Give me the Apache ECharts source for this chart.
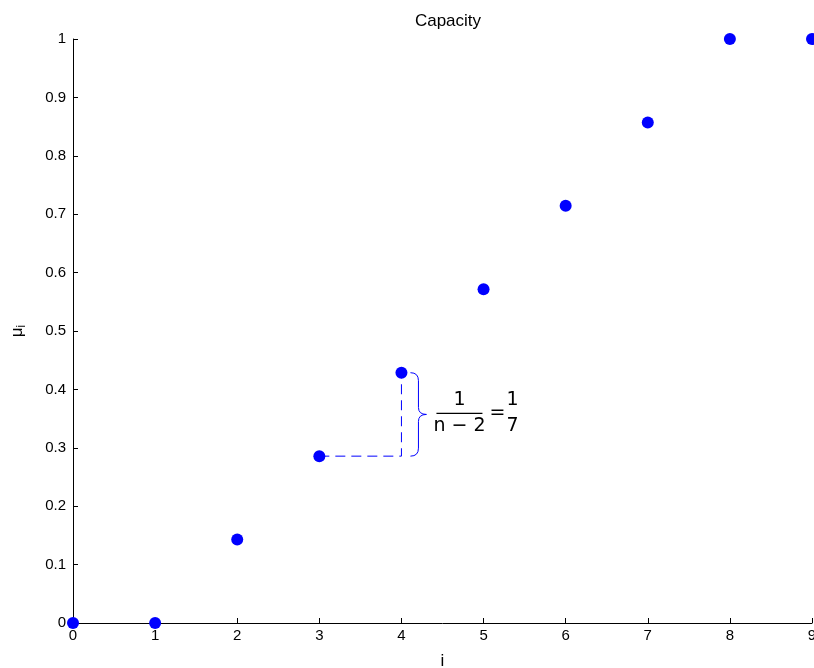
<!DOCTYPE html>
<html>
<head>
<meta charset="utf-8">
<script src="https://cdn.jsdelivr.net/npm/echarts@6/dist/echarts.min.js"></script>
<style>
  html, body { margin: 0; padding: 0; background: #fff; }
  #chart { width: 814px; height: 668px; }
</style>
</head>
<body>
<div id="chart"></div>
<script>
// capacity values mu_i for i = 0..9
const iValues = [0, 1, 2, 3, 4, 5, 6, 7, 8, 9];
const muValues = [0, 0, 0.1429, 0.2857, 0.4286, 0.5714, 0.7143, 0.8571, 1, 1];
const yTicks = [0, 0.1, 0.2, 0.3, 0.4, 0.5, 0.6, 0.7, 0.8, 0.9, 1];
// annotated step: from point 3 to point 4
const stepFrom = 3;
const stepTo = 4;

const points = iValues.map((x, k) => [x, muValues[k]]);
const stepPath = [
  [iValues[stepFrom], muValues[stepFrom]],
  [iValues[stepTo], muValues[stepFrom]],
  [iValues[stepTo], muValues[stepTo]]
];

const chart = echarts.init(document.getElementById('chart'));
const tickFont = 'Liberation Sans, Arial, sans-serif';

chart.setOption({
  animation: false,
  title: {
    text: 'Capacity',
    left: 443,
    top: 8,
    textAlign: 'center',
    textStyle: { fontFamily: tickFont, fontSize: 17, fontWeight: 'normal', color: '#000' }
  },
  grid: { left: 73, right: 2, top: 39, bottom: 45, outerBoundsMode: 'none', containLabel: false },
  xAxis: {
    type: 'value',
    min: 0, max: 9, interval: 1,
    name: 'i',
    nameLocation: 'middle',
    nameGap: 30,
    nameTextStyle: { fontFamily: tickFont, fontSize: 17, color: '#000' },
    axisLine: { onZero: false, lineStyle: { color: '#000', width: 1 } },
    axisTick: { inside: true, length: 5, lineStyle: { color: '#000' } },
    axisLabel: { fontFamily: tickFont, fontSize: 15, color: '#000', margin: 5 },
    splitLine: { show: false }
  },
  yAxis: {
    type: 'value',
    min: 0, max: 1, interval: 0.1,
    name: '{m|μ}{s|i}',
    nameLocation: 'middle',
    nameGap: 45,
    nameTextStyle: {
      rich: {
        m: { fontFamily: tickFont, fontSize: 17, color: '#000' },
        s: { fontFamily: tickFont, fontSize: 12, color: '#000', padding: [10, 0, 0, 0] }
      }
    },
    axisLine: { onZero: false, lineStyle: { color: '#000', width: 1 } },
    axisTick: { inside: true, length: 5, lineStyle: { color: '#000' } },
    axisLabel: {
      fontFamily: tickFont, fontSize: 15, color: '#000', margin: 7,
      formatter: v => String(Math.round(v * 10) / 10)
    },
    splitLine: { show: false }
  },
  series: [
    {
      type: 'line',
      data: stepPath,
      symbol: 'none',
      lineStyle: { color: '#0000ff', width: 1, type: [10, 6] },
      z: 2
    },
    {
      type: 'scatter',
      data: points,
      symbol: 'circle',
      symbolSize: 12,
      itemStyle: { color: '#0000ff', opacity: 1 },
      clip: false,
      z: 3
    },
    {
      type: 'custom',
      coordinateSystem: 'cartesian2d',
      clip: false,
      data: [[iValues[stepTo], muValues[stepTo], muValues[stepFrom]]],
      renderItem: function (params, api) {
        const top = api.coord([api.value(0), api.value(1)]);
        const bot = api.coord([api.value(0), api.value(2)]);
        const x0 = top[0] + 9;
        const t = top[1];
        const b = bot[1];
        const m = (t + b) / 2;
        const path = 'M' + x0 + ',' + t +
          ' Q' + (x0 + 8) + ',' + t + ' ' + (x0 + 8) + ',' + (t + 8) +
          ' L' + (x0 + 8) + ',' + (m - 7) +
          ' Q' + (x0 + 8) + ',' + m + ' ' + (x0 + 16) + ',' + m +
          ' Q' + (x0 + 8) + ',' + m + ' ' + (x0 + 8) + ',' + (m + 7) +
          ' L' + (x0 + 8) + ',' + (b - 8) +
          ' Q' + (x0 + 8) + ',' + b + ' ' + x0 + ',' + b;
        const f = { fontFamily: 'DejaVu Sans', fontSize: 19, fill: '#000' };
        const fx = x0 + 49;
        return {
          type: 'group',
          children: [
            { type: 'path', shape: { pathData: path }, style: { stroke: '#0000ff', fill: null, lineWidth: 1 } },
            { type: 'text', style: Object.assign({ text: '1', x: fx, y: m - 14, align: 'center', verticalAlign: 'middle' }, f) },
            { type: 'line', shape: { x1: fx - 23, y1: m - 1, x2: fx + 23, y2: m - 1 }, style: { stroke: '#000', lineWidth: 1.2 } },
            { type: 'text', style: Object.assign({ text: 'n − 2', x: fx, y: m + 12, align: 'center', verticalAlign: 'middle' }, f) },
            { type: 'text', style: Object.assign({ text: '=', x: fx + 38, y: m - 1, align: 'center', verticalAlign: 'middle' }, f) },
            { type: 'text', style: Object.assign({ text: '1', x: fx + 53, y: m - 14, align: 'center', verticalAlign: 'middle' }, f) },
            { type: 'text', style: Object.assign({ text: '7', x: fx + 53, y: m + 12, align: 'center', verticalAlign: 'middle' }, f) }
          ]
        };
      },
      z: 4
    }
  ]
});
</script>
</body>
</html>
